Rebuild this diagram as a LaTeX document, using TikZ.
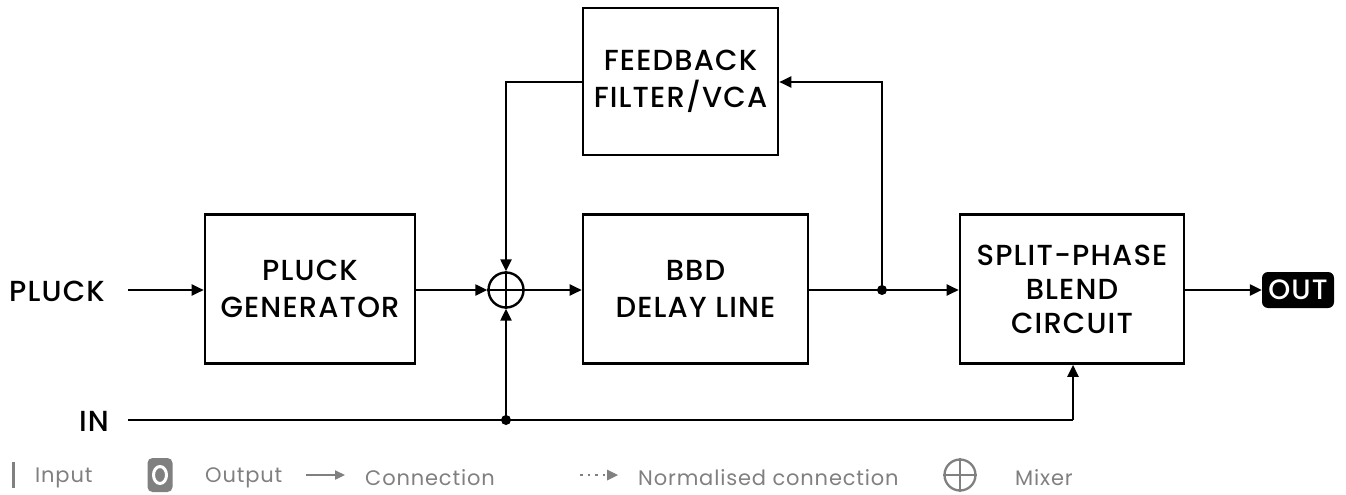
\documentclass[tikz,border=0pt]{standalone}
\usepackage{fontspec}
\setmainfont{Poppins}[LetterSpace=4]
\newfontfamily\medf{Poppins Medium}[LetterSpace=4]
\usetikzlibrary{arrows.meta}
\definecolor{lg}{HTML}{808080}
\begin{document}
\begin{tikzpicture}[x=1pt,y=-1pt,
  blk/.style={draw,line width=2.6pt,minimum width=0,inner sep=0,align=center,font=\medf\fontsize{29}{37}\selectfont},
  con/.style={line width=2.3pt,-{Triangle[length=12pt,width=11pt]}},
  wire/.style={line width=2.3pt},
  lbl/.style={font=\medf\fontsize{29}{32}\selectfont,inner sep=0},
  leg/.style={font=\fontsize{21}{24}\selectfont,text=lg,anchor=west,inner sep=0},
  dot/.style={circle,fill,inner sep=0,minimum size=10pt}]
\useasboundingbox (0,0) rectangle (1346,495);
\node[blk,minimum width=195pt,minimum height=147pt] (fb) at (680.5,81.5) {FEEDBACK\\FILTER/VCA};
\node[blk,minimum width=210pt,minimum height=149pt] (pg) at (310,289) {PLUCK\\GENERATOR};
\node[blk,minimum width=225pt,minimum height=149pt] (bbd) at (695.5,289) {BBD\\DELAY LINE};
\node[blk,minimum width=224pt,minimum height=149pt,font=\medf\fontsize{29}{34}\selectfont] (sp) at (1072,289) {SPLIT-PHASE\\BLEND\\CIRCUIT};
\node[circle,draw,line width=2.4pt,minimum size=35pt,inner sep=0] (mx) at (506,290) {};
\draw[line width=2pt] (mx.north) -- (mx.south) (mx.west) -- (mx.east);
\node[lbl,anchor=west] (pluck) at (9,291) {PLUCK};
\node[lbl,anchor=east] (in) at (109,421) {IN};
\node[fill=black,text=white,rounded corners=6pt,inner sep=0,font=\medf\fontsize{28}{30}\selectfont,minimum height=36pt,minimum width=72pt] (out) at (1298,290) {OUT};
\coordinate (d1) at (882,290);
\coordinate (d2) at (506,420);
\coordinate (pS) at (128,290);
\coordinate (inS) at (128,420);
\draw[con] (pS) -- (pg.west |- pS);
\draw[con] (pg.east |- mx) -- (mx.west);
\draw[con] (mx.east) -- (bbd.west |- mx);
\draw[con] (bbd.east |- d1) -- (sp.west |- d1);
\draw[con] (sp.east |- out) -- (out.west);
\draw[con] (d1) -- (882,82) -- (fb.east |- 0,82);
\draw[con] (fb.west |- 0,82) -- (506,82) -- (mx.north);
\draw[wire] (inS) -- (1073,420);
\draw[con] (1073,420) -- (sp.south -| 1073,0);
\draw[con] (d2) -- (mx.south);
\node[dot] at (d1) {};
\node[dot] at (d2) {};
% legend
\draw[lg,line width=3pt] (13,462) -- (13,488);
\node[leg] at (35,478) {Input};
\node[fill=lg,rounded corners=5pt,minimum width=25pt,minimum height=34pt,inner sep=0] (oi) at (160,475) {};
\draw[white,line width=3pt] (oi.center) ellipse (6.5pt and 8.5pt);
\node[leg] at (205,478) {Output};
\draw[lg,line width=2.3pt,-{Triangle[length=10pt,width=9pt]}] (306,475) -- (345,475);
\node[leg] at (365,478) {Connection};
\draw[lg,line width=2.3pt,dash pattern=on 2.5pt off 5pt] (580,475) -- (606,475);
\fill[lg] (607,469.5) -- (618,475) -- (607,480.5) -- cycle;
\node[leg] at (638,478) {Normalised connection};
\node[circle,draw=lg,line width=2.3pt,minimum width=31pt,inner sep=0] (mxl) at (960,475) {};
\draw[lg,line width=2pt] (mxl.north) -- (mxl.south) (mxl.west) -- (mxl.east);
\node[leg] at (1015,478) {Mixer};
\end{tikzpicture}
\end{document}
